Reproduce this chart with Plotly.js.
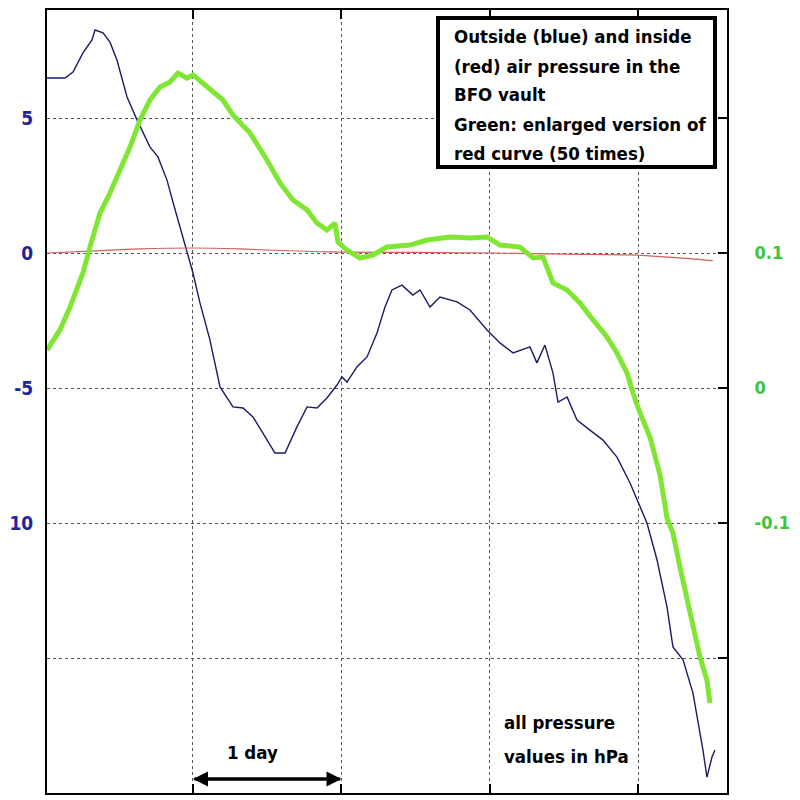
<!DOCTYPE html>
<html>
<head>
<meta charset="utf-8">
<script src="https://cdn.plot.ly/plotly-3.0.1.min.js"></script>
<style>html,body{margin:0;padding:0;background:#fff;}#chart{width:800px;height:800px;}</style>
</head>
<body>
<div id="chart"></div>
<script>
// time in days
const blueDays = [0.017,0.138,0.192,0.259,0.320,0.340,0.394,0.441,0.488,0.556,0.623,0.710,0.764,0.825,0.865,0.912,0.960,1.0,1.047,1.114,1.182,1.269,1.337,1.404,1.471,1.552,1.620,1.700,1.768,1.835,1.902,1.970,2.003,2.037,2.104,2.172,2.239,2.293,2.340,2.407,2.481,2.529,2.596,2.663,2.778,2.865,2.980,3.067,3.155,3.269,3.316,3.370,3.424,3.458,3.519,3.586,3.673,3.761,3.855,3.943,4.057,4.125,4.192,4.232,4.300,4.367,4.434,4.461,4.495,4.515];
// outside pressure (hPa, left axis)
const blueValues = [6.48,6.48,6.70,7.41,7.89,8.26,8.15,7.81,7.15,5.78,4.93,3.93,3.56,2.70,1.89,0.96,0.0,-0.74,-1.85,-3.22,-4.96,-5.70,-5.74,-6.07,-6.67,-7.41,-7.41,-6.44,-5.70,-5.74,-5.37,-4.89,-4.59,-4.78,-4.22,-3.85,-2.96,-2.00,-1.37,-1.19,-1.56,-1.37,-2.00,-1.63,-1.81,-2.11,-2.85,-3.33,-3.70,-3.48,-4.07,-3.41,-4.44,-5.52,-5.33,-6.19,-6.56,-6.93,-7.56,-8.52,-10.0,-11.37,-13.11,-14.59,-15.07,-16.30,-18.41,-19.41,-18.67,-18.41];

const greenDays = [0.017,0.104,0.172,0.259,0.306,0.374,0.441,0.508,0.576,0.643,0.710,0.778,0.845,0.899,0.960,1.0,1.067,1.135,1.202,1.269,1.384,1.498,1.586,1.673,1.768,1.835,1.902,1.956,1.976,2.037,2.125,2.212,2.306,2.461,2.576,2.731,2.865,2.980,3.067,3.202,3.290,3.357,3.424,3.519,3.606,3.694,3.788,3.855,3.923,3.963,4.010,4.077,4.145,4.192,4.232,4.279,4.347,4.414,4.461,4.481];
// enlarged inside pressure (right axis)
const greenValues = [0.0281,0.0430,0.0600,0.0852,0.1044,0.1296,0.1444,0.1615,0.1785,0.1985,0.2133,0.2230,0.2267,0.2333,0.2296,0.2319,0.2259,0.2193,0.2133,0.2022,0.1889,0.1689,0.1519,0.1393,0.1319,0.1222,0.1170,0.1222,0.1081,0.1022,0.0963,0.0985,0.1044,0.1059,0.1096,0.1119,0.1111,0.1119,0.1059,0.1044,0.0963,0.0970,0.0778,0.0726,0.0630,0.0504,0.0378,0.0259,0.0111,-0.0037,-0.0185,-0.0363,-0.0644,-0.0963,-0.1074,-0.1326,-0.1644,-0.1993,-0.2163,-0.2333];

const redDays = [0.017,0.306,0.643,1.0,1.316,1.498,1.929,2.5,3.0,3.5,3.93,4.2,4.5];
// inside pressure (hPa, left axis)
const redValues = [0.0,0.07,0.15,0.185,0.15,0.11,0.04,0.02,0.0,-0.04,-0.07,-0.15,-0.28];

const xTicks = [1,2,3,4];
const leftTickVals = [5,0,-5,-10,-15];
const leftTickText = ['5','0','-5','10',''];
const rightTickVals = [0.2,0.1,0,-0.1,-0.2];
const rightTickText = ['','0.1','0','-0.1',''];

const boxLines = ['Outside (blue) and inside','(red) air pressure in the','BFO vault','Green: enlarged version of','red curve (50 times)'];
const noteLines = ['all pressure','values in hPa'];
const dayLabel = '1 day';

const FONT = '"DejaVu Sans Condensed", Roboto, sans-serif';
const txt = (size, color) => ({family: FONT, size: size, color: color, weight: 'bold'});

const traces = [
  {x: greenDays, y: greenValues, yaxis: 'y2', mode: 'lines', line: {color: '#80e634', width: 5}, hoverinfo: 'skip'},
  {x: blueDays, y: blueValues, mode: 'lines', line: {color: '#1b1b66', width: 1.4}, hoverinfo: 'skip'},
  {x: redDays, y: redValues, mode: 'lines', line: {color: '#d0605a', width: 1.2, shape: 'spline'}, hoverinfo: 'skip'}
];

const boxTopPx = [36, 66, 95, 124, 153];
const plotTop = 10, plotH = 783;
const annotations = [];
boxLines.forEach((t, i) => {
  annotations.push({xref: 'paper', yref: 'paper', x: (452-47)/680, y: 1 - (boxTopPx[i]-plotTop)/plotH,
    xanchor: 'left', yanchor: 'middle', text: t, showarrow: false, font: txt(18.5, '#000')});
});
const notePx = [722, 756];
noteLines.forEach((t, i) => {
  annotations.push({xref: 'paper', yref: 'paper', x: (502-47)/680, y: 1 - (notePx[i]-plotTop)/plotH,
    xanchor: 'left', yanchor: 'middle', text: t, showarrow: false, font: txt(18.5, '#000')});
});
annotations.push({xref: 'paper', yref: 'paper', x: (252-47)/680, y: 1 - (752-plotTop)/plotH,
  xanchor: 'center', yanchor: 'middle', text: dayLabel, showarrow: false, font: txt(18.5, '#000')});
// double arrow spanning one day
annotations.push({x: xTicks[0], y: -19.48, ax: xTicks[1], ay: -19.48, axref: 'x', ayref: 'y', xref: 'x', yref: 'y',
  text: '', showarrow: true, arrowhead: 2, arrowsize: 1, arrowwidth: 3, arrowcolor: '#000', standoff: 0, startstandoff: 0});
annotations.push({x: xTicks[1], y: -19.48, ax: xTicks[0], ay: -19.48, axref: 'x', ayref: 'y', xref: 'x', yref: 'y',
  text: '', showarrow: true, arrowhead: 2, arrowsize: 1, arrowwidth: 3, arrowcolor: '#000', standoff: 0, startstandoff: 0});

const layout = {
  width: 800, height: 800,
  margin: {l: 47, r: 73, t: 10, b: 7},
  paper_bgcolor: '#fff', plot_bgcolor: '#fff',
  showlegend: false,
  xaxis: {range: [0.017, 4.596], tickvals: xTicks, showticklabels: false, ticks: 'inside', ticklen: 9, tickwidth: 2, tickcolor: '#000',
    showline: true, linecolor: '#000', linewidth: 2, mirror: 'ticks', showgrid: true, gridcolor: '#555', griddash: 'dot', gridwidth: 1, zeroline: false, fixedrange: true},
  yaxis: {range: [-20, 9], tickvals: leftTickVals, ticktext: leftTickText, ticks: '', showline: true, linecolor: '#000', linewidth: 2,
    showgrid: true, gridcolor: '#555', griddash: 'dot', gridwidth: 1, zeroline: false, ticklabelstandoff: 8,
    tickfont: txt(19, '#23239a'), fixedrange: true},
  yaxis2: {range: [-0.3, 0.28], overlaying: 'y', side: 'right', tickvals: rightTickVals, ticktext: rightTickText, ticks: 'inside', ticklen: 9, tickwidth: 2, tickcolor: '#000',
    showline: true, linecolor: '#000', linewidth: 2, showgrid: false, zeroline: false, ticklabelstandoff: 22,
    tickfont: txt(18, '#3cc43c'), fixedrange: true},
  shapes: [{type: 'rect', xref: 'paper', yref: 'paper', x0: (438-47)/680, x1: (715-47)/680, y0: 1 - (167-plotTop)/plotH, y1: 1 - (18-plotTop)/plotH,
    line: {color: '#000', width: 4}, fillcolor: '#fff', layer: 'above'}],
  annotations: annotations
};

Plotly.newPlot('chart', traces, layout, {staticPlot: true, displayModeBar: false});
</script>
</body>
</html>
